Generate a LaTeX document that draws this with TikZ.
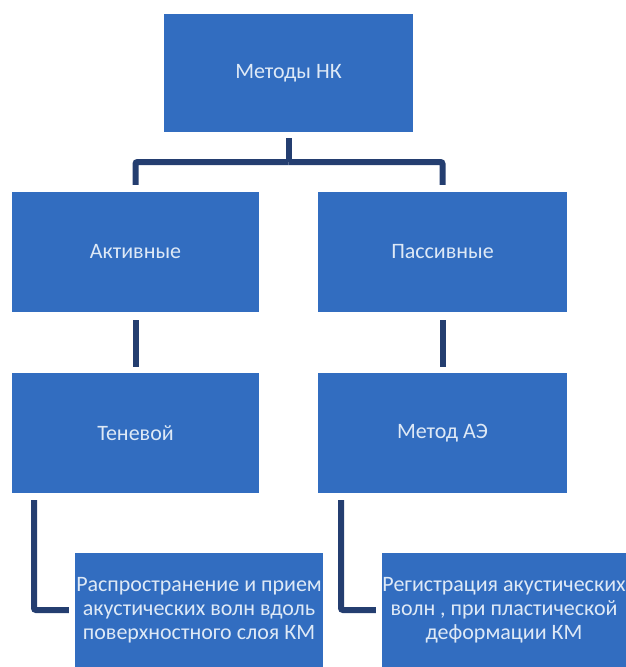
\documentclass[tikz,border=0pt]{standalone}
\usepackage{fontspec}
\setmainfont{Carlito}
\usetikzlibrary{positioning}
\definecolor{boxblue}{RGB}{50,109,192}\definecolor{linknavy}{RGB}{36,62,112}\definecolor{boxtext}{RGB}{222,233,246}

\begin{document}
\begin{tikzpicture}[x=1pt,y=-1pt,
  box/.style={rectangle,fill=boxblue,text=boxtext,font=\fontsize{22}{24}\selectfont,align=center,inner sep=0pt},
  link/.style={draw=linknavy,line width=6pt,rounded corners=2pt}]
\useasboundingbox (0,0) rectangle (626,667);
\node[box,minimum width=249pt,minimum height=118pt] (nk) at (288.5,73) {Методы НК};
\node[box,minimum width=247pt,minimum height=120pt] (akt) at (135.5,252) {Активные};\node[box,minimum width=249pt,minimum height=120pt] (pas) at (442.5,252) {Пассивные};
\node[box,minimum width=247pt,minimum height=120pt] (ten) at (135.5,433) {Теневой};\node[box,minimum width=249pt,minimum height=120pt] (ae) at (442.5,433) {Метод АЭ};
\node[box,minimum width=248pt,minimum height=114pt] (rasp) at (199,610) {Распространение и прием\\акустических волн вдоль\\поверхностного слоя КМ};
\node[box,minimum width=244pt,minimum height=114pt] (reg) at (504,610) {Регистрация акустических\\волн , при пластической\\деформации КМ};
\coordinate (fork) at (288.5,162);
\draw[link,shorten <=6pt] (nk.south) -- (fork);\draw[link,shorten >=7pt] (fork) -| (akt.north);\draw[link,shorten >=7pt] (fork) -| (pas.north);
\draw[link,shorten <=8pt,shorten >=6pt] (akt) -- (ten);\draw[link,shorten <=8pt,shorten >=6pt] (pas) -- (ae);
\draw[link,shorten <=7pt,shorten >=6pt] ([xshift=-101.5pt]ten.south) |- (rasp.west);
\draw[link,shorten <=7pt,shorten >=6pt] ([xshift=-101.5pt]ae.south) |- (reg.west);
\end{tikzpicture}
\end{document}
